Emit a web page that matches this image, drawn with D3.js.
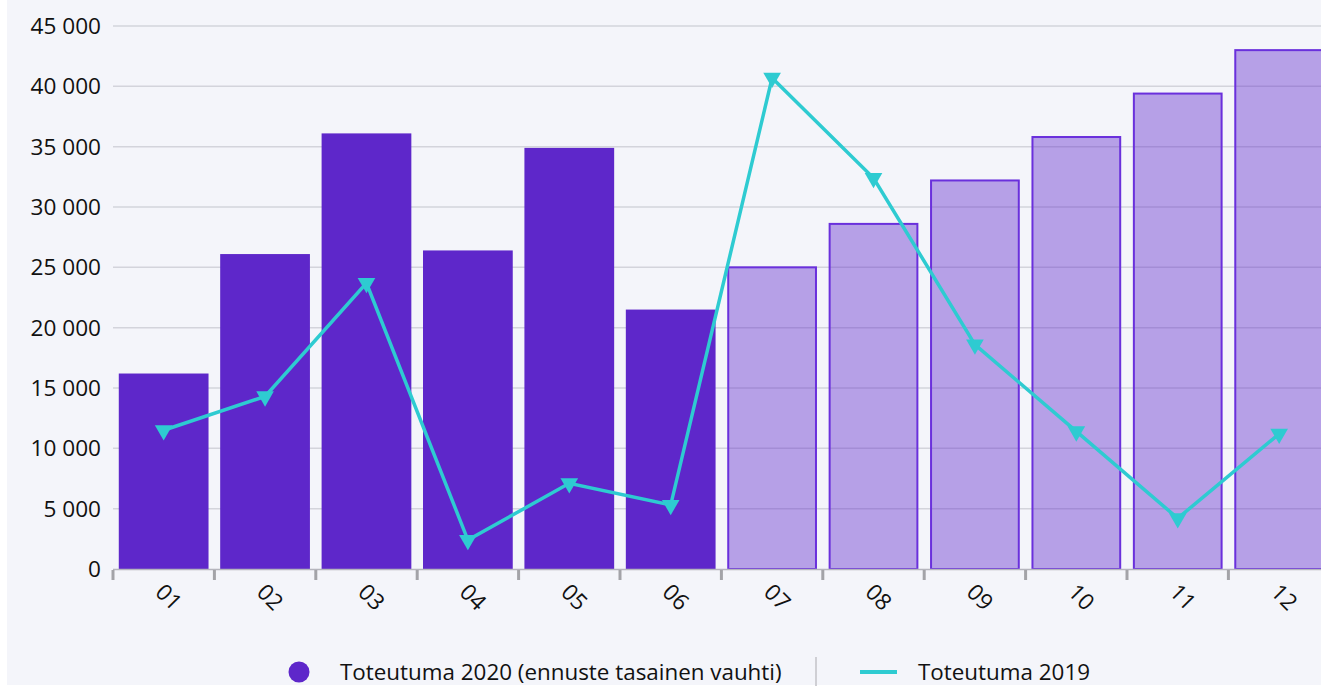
<!DOCTYPE html>
<html><head><meta charset="utf-8">
<script src="https://cdn.jsdelivr.net/npm/d3@7"></script>
<style>
html,body{margin:0;padding:0;background:#fff;}
svg{display:block;font-family:"Open Sans","Noto Sans",sans-serif;}
</style></head>
<body>
<svg id="c" width="1321" height="686"></svg>
<script>
const months = ["01","02","03","04","05","06","07","08","09","10","11","12"];
const actual2020 = [16200,26100,36100,26400,34900,21500,25000,28600,32200,35800,39400,43000];
const forecastFrom = 6; // index from which values are forecast (lighter bars)
const actual2019 = [11500,14300,23700,2400,7100,5300,40700,32400,18600,11400,4200,11200];
const yTicks = [0,5000,10000,15000,20000,25000,30000,35000,40000,45000];
const legendLabels = ["Toteutuma 2020 (ennuste tasainen vauhti)","Toteutuma 2019"];

const W=1321,H=686;
const svg=d3.select("#c");
svg.append("rect").attr("x",7).attr("y",0).attr("width",W-7).attr("height",H-1).attr("fill","#f4f5fa");

const x0=113, step=101.4;
const x=d3.scaleBand().domain(months).range([x0,x0+step*months.length]).paddingInner(0.115).paddingOuter(0.057);
const y=d3.scaleLinear().domain([0,45000]).range([569,26]);
const fmt=v=>d3.format(",")(v).replace(/,/g," ");

// grid
svg.append("g").selectAll("line").data(yTicks.filter(d=>d>0)).join("line")
  .attr("x1",x0).attr("x2",W).attr("y1",d=>y(d)).attr("y2",d=>y(d))
  .attr("stroke","#d3d4db").attr("stroke-width",1.5);
// y labels
svg.append("g").selectAll("text").data(yTicks).join("text")
  .attr("x",101).attr("y",d=>y(d)).attr("dy","0.35em").attr("text-anchor","end")
  .attr("font-size",22.6).attr("fill","#111").text(fmt);

// bars
svg.append("g").selectAll("rect").data(actual2020).join("rect")
  .attr("x",(d,i)=>x(months[i])+(i>=forecastFrom?1:0))
  .attr("width",(d,i)=>x.bandwidth()-(i>=forecastFrom?2:0))
  .attr("y",d=>y(d)+0)
  .attr("height",d=>y(0)-y(d))
  .attr("fill",(d,i)=>i>=forecastFrom?"rgba(94,39,203,0.41)":"#5e27ca")
  .attr("stroke",(d,i)=>i>=forecastFrom?"#6a30dc":"none")
  .attr("stroke-width",2);

// x axis line + ticks
svg.append("line").attr("x1",x0).attr("x2",W).attr("y1",569.5).attr("y2",569.5).attr("stroke","#b5b5bd").attr("stroke-width",1.5);
const bounds=d3.range(months.length+1).map(i=>x0+i*step);
svg.append("g").selectAll("rect").data(bounds).join("rect")
  .attr("x",d=>d-1.5).attr("y",570).attr("width",3).attr("height",10).attr("fill","#a3a3a8");
svg.append("g").selectAll("text").data(months).join("text")
  .attr("transform",d=>`translate(${x(d)+x.bandwidth()/2-4},${588}) rotate(45)`)
  .attr("dy","0.35em").attr("text-anchor","start").attr("font-size",22.6).attr("fill","#111").text(d=>d);

// line 2019
const cx=i=>x(months[i])+x.bandwidth()/2;
const line=d3.line().x((d,i)=>cx(i)).y(d=>y(d));
svg.append("path").datum(actual2019).attr("d",line).attr("fill","none")
  .attr("stroke","#2ecbd1").attr("stroke-width",3.5).attr("stroke-linejoin","miter");
svg.append("g").selectAll("path").data(actual2019).join("path")
  .attr("d",d3.symbol(d3.symbolTriangle,135))
  .attr("transform",(d,i)=>`translate(${cx(i)},${y(d)}) rotate(180)`)
  .attr("fill","#2ecbd1");

// legend
const lg=svg.append("g");
lg.append("circle").attr("cx",299).attr("cy",672).attr("r",10.5).attr("fill","#5e27ca");
lg.append("text").attr("x",340).attr("y",672).attr("dy","0.35em").attr("font-size",22.4).attr("fill","#111").text(legendLabels[0]);
lg.append("line").attr("x1",816).attr("x2",816).attr("y1",657).attr("y2",686).attr("stroke","#cfcfd4").attr("stroke-width",2);
lg.append("line").attr("x1",860).attr("x2",897).attr("y1",672).attr("y2",672).attr("stroke","#2ecbd1").attr("stroke-width",4);
lg.append("text").attr("x",918).attr("y",672).attr("dy","0.35em").attr("font-size",22.4).attr("fill","#111").text(legendLabels[1]);
</script>
</body></html>
